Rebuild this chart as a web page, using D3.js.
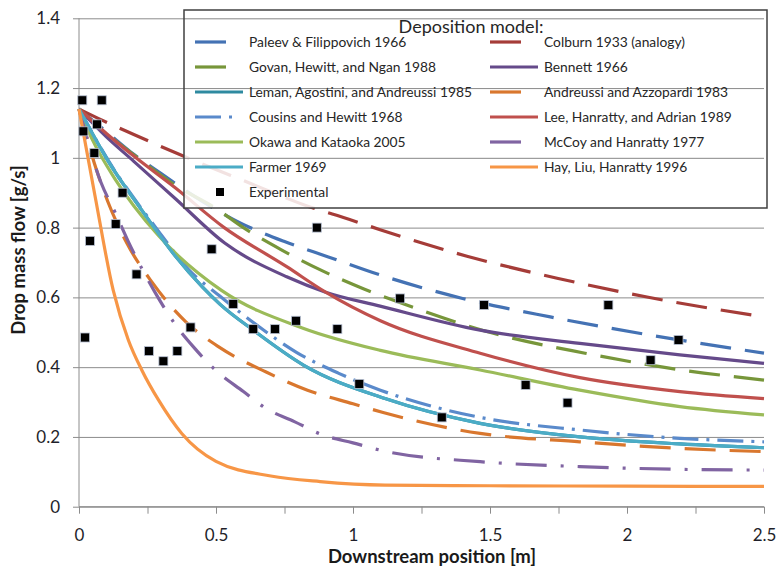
<html>
  <head>
    <style>
      body { margin: 0; background: #fff; }
      text { font-family: Lato, 'Open Sans', sans-serif; }
    </style>
  </head>
  <body>
    <script src="https://d3js.org/d3.v7.min.js"></script>

    <svg id="chart" width="777" height="569"></svg>

    <script>
      // model curves, [position m, drop mass flow g/s]
      const paleev = [[0, 1.14], [0.1, 1.075], [0.2, 1.01], [0.3, 0.955], [0.45, 0.875], [0.59, 0.813], [0.75, 0.76], [0.91, 0.716], [1.1, 0.664], [1.4, 0.597], [1.72, 0.544], [2.06, 0.495], [2.5, 0.44]];
      const colburn = [[0, 1.14], [0.084, 1.108], [0.2, 1.067], [0.387, 1.003], [0.6, 0.935], [0.84, 0.86], [0.985, 0.824], [1.099, 0.794], [1.416, 0.718], [1.745, 0.655], [2.073, 0.601], [2.5, 0.544]];
      const govan = [[0, 1.14], [0.1, 1.07], [0.215, 1.0], [0.35, 0.922], [0.5, 0.855], [0.6, 0.8], [0.737, 0.737], [0.883, 0.678], [1.04, 0.624], [1.196, 0.578], [1.512, 0.497], [1.847, 0.44], [2.181, 0.394], [2.5, 0.363]];
      const bennett = [[0, 1.14], [0.1, 1.06], [0.2, 0.99], [0.35, 0.884], [0.533, 0.755], [0.758, 0.659], [0.9, 0.615], [1.099, 0.575], [1.464, 0.506], [1.828, 0.468], [2.193, 0.435], [2.5, 0.411]];
      const leman = [[0, 1.14], [0.107, 0.99], [0.229, 0.85], [0.35, 0.72], [0.45, 0.63], [0.515, 0.58], [0.636, 0.506], [0.819, 0.406], [1.117, 0.31], [1.464, 0.239], [1.828, 0.2], [2.193, 0.18], [2.5, 0.169]];
      const andreussi = [[0, 1.14], [0.066, 0.96], [0.105, 0.875], [0.175, 0.755], [0.265, 0.645], [0.39, 0.53], [0.51, 0.458], [0.683, 0.386], [0.834, 0.334], [1.0, 0.295], [1.11, 0.27], [1.464, 0.21], [1.828, 0.186], [2.193, 0.167], [2.5, 0.158]];
      const cousins = [[0, 1.14], [0.139, 0.953], [0.2, 0.885], [0.29, 0.79], [0.4, 0.68], [0.515, 0.603], [0.65, 0.52], [0.795, 0.442], [0.946, 0.383], [1.1, 0.334], [1.464, 0.256], [1.828, 0.22], [2.193, 0.196], [2.5, 0.186]];
      const lee = [[0, 1.14], [0.1, 1.07], [0.2, 1.005], [0.35, 0.915], [0.53, 0.8], [0.758, 0.688], [0.9, 0.615], [1.1, 0.533], [1.464, 0.44], [1.828, 0.37], [2.193, 0.33], [2.5, 0.31]];
      const okawa = [[0, 1.14], [0.05, 1.05], [0.131, 0.94], [0.289, 0.778], [0.52, 0.62], [0.82, 0.511], [1.1, 0.448], [1.464, 0.392], [1.828, 0.334], [2.193, 0.287], [2.5, 0.263]];
      const mccoy = [[0, 1.14], [0.08, 0.93], [0.131, 0.845], [0.18, 0.76], [0.277, 0.615], [0.348, 0.526], [0.42, 0.456], [0.5, 0.39], [0.6, 0.33], [0.682, 0.282], [0.786, 0.244], [0.892, 0.205], [1.0, 0.183], [1.11, 0.16], [1.464, 0.129], [1.828, 0.115], [2.193, 0.107], [2.5, 0.105]];
      const farmer = [[0, 1.14], [0.107, 0.99], [0.229, 0.85], [0.35, 0.72], [0.45, 0.63], [0.515, 0.58], [0.636, 0.506], [0.819, 0.406], [1.117, 0.31], [1.464, 0.239], [1.828, 0.2], [2.193, 0.18], [2.5, 0.169]];
      const hay = [[0, 1.14], [0.058, 0.893], [0.125, 0.62], [0.18, 0.478], [0.229, 0.392], [0.29, 0.306], [0.375, 0.21], [0.5, 0.13], [0.7, 0.088], [0.88, 0.072], [1.117, 0.062], [1.5, 0.06], [2.0, 0.059], [2.5, 0.058]];

      const experimental = [
        [0.012, 1.165], [0.083, 1.165], [0.016, 1.076], [0.066, 1.096], [0.056, 1.014],
        [0.159, 0.9], [0.134, 0.81], [0.04, 0.762], [0.21, 0.666], [0.484, 0.738],
        [0.022, 0.485], [0.255, 0.446], [0.308, 0.417], [0.359, 0.446], [0.407, 0.514],
        [0.563, 0.581], [0.636, 0.509], [0.715, 0.509], [0.792, 0.533], [0.868, 0.8],
        [0.943, 0.509], [1.023, 0.352], [1.172, 0.597], [1.324, 0.256], [1.478, 0.578],
        [1.63, 0.349], [1.783, 0.298], [1.932, 0.578], [2.086, 0.42], [2.188, 0.478]
      ];

      const seriesNames = [
        'Paleev & Filippovich 1966', 'Colburn 1933 (analogy)',
        'Govan, Hewitt, and Ngan 1988', 'Bennett 1966',
        'Leman, Agostini, and Andreussi 1985', 'Andreussi and Azzopardi 1983',
        'Cousins and Hewitt 1968', 'Lee, Hanratty, and Adrian 1989',
        'Okawa and Kataoka 2005', 'McCoy and Hanratty 1977',
        'Farmer 1969', 'Hay, Liu, Hanratty 1996'
      ];
      const seriesData = [paleev, colburn, govan, bennett, leman, andreussi, cousins, lee, okawa, mccoy, farmer, hay];

      const xTicks = [0, 0.25, 0.5, 0.75, 1, 1.25, 1.5, 1.75, 2, 2.25, 2.5];
      const yTicks = [0, 0.2, 0.4, 0.6, 0.8, 1, 1.2, 1.4];

      // styles
      const longDash = '31,14';
      const colors = ['#4472b4', '#a53c38', '#77963a', '#654a8a', '#2e8aa0', '#d9772e',
                      '#5a8acb', '#c0504d', '#9bbb59', '#8064a2', '#4bacc6', '#f79646'];
      const dashes = [longDash, longDash, longDash, null, null, longDash,
                      '26,8,3,8', null, null, '31,14,3,14', null, null];
      // legend sample shows one dash (and the dot for the short dash-dot)
      const sampleLen = (i) => !dashes[i] ? 48 : dashes[i] === '26,8,3,8' ? 37 : 31;

      const svg = d3.select('#chart');
      const pLeft = 79, pRight = 764, pTop = 18.3, pBottom = 506.7;

      const x = d3.scaleLinear().domain([0, 2.5]).range([pLeft, pRight]);
      const y = d3.scaleLinear().domain([0, 1.4]).range([pBottom, pTop]);

      // gridlines
      const grid = (g) => g.attr('transform', `translate(${pLeft},0)`)
        .call(d3.axisLeft(y).tickValues(yTicks).tickSize(-(pRight - pLeft)).tickFormat(''))
        .call((g) => g.select('.domain').remove())
        .call((g) => g.selectAll('line').attr('stroke', '#8c8c8c').attr('stroke-width', 1));
      svg.append('g').call(grid);

      // axes
      const yAxis = svg.append('g')
        .attr('transform', `translate(${pLeft},0)`)
        .call(d3.axisLeft(y).tickValues(yTicks).tickSize(6).tickPadding(13)
          .tickFormat((d) => String(+d.toFixed(1))));
      yAxis.select('.domain').attr('stroke', '#8c8c8c').attr('d', `M0,${pBottom}V${pTop}`);
      yAxis.selectAll('line').attr('stroke', '#8c8c8c');
      yAxis.selectAll('text').attr('font-size', 17).attr('fill', '#1f1f2a')
        .attr('font-family', 'Lato, sans-serif');

      const xAxis = svg.append('g')
        .attr('transform', `translate(0,${pBottom})`)
        .call(d3.axisBottom(x).tickValues(xTicks).tickSize(7).tickPadding(15)
          .tickFormat((d) => (d * 2) % 1 === 0 ? String(d) : ''));
      xAxis.select('.domain').attr('stroke', '#8c8c8c').attr('d', `M${pLeft},0H${pRight}`);
      xAxis.selectAll('line').attr('stroke', '#8c8c8c');
      xAxis.selectAll('text').attr('font-size', 17).attr('fill', '#1f1f2a')
        .attr('font-family', 'Lato, sans-serif');

      // curves
      const line = d3.line()
        .x((d) => x(d[0]))
        .y((d) => y(d[1]))
        .curve(d3.curveMonotoneX);

      svg.append('g')
        .selectAll('path')
        .data(seriesData)
        .enter()
        .append('path')
        .attr('d', line)
        .attr('fill', 'none')
        .attr('stroke', (_, i) => colors[i])
        .attr('stroke-width', 3.2)
        .attr('stroke-dasharray', (_, i) => dashes[i]);

      // experimental points
      svg.append('g')
        .selectAll('rect')
        .data(experimental)
        .enter()
        .append('rect')
        .attr('x', (d) => x(d[0]) - 4.5)
        .attr('y', (d) => y(d[1]) - 4.5)
        .attr('width', 9)
        .attr('height', 9)
        .attr('fill', '#000')
        .attr('stroke', '#b9c2d4')
        .attr('stroke-width', 0.8);

      // legend
      const lx = 184, ly = 10, lw = 583, lh = 198;
      svg.append('rect')
        .attr('x', lx).attr('y', ly).attr('width', lw).attr('height', lh)
        .attr('fill', '#fff').attr('fill-opacity', 0.85);

      svg.append('clipPath').attr('id', 'legclip')
        .append('rect').attr('x', lx).attr('y', ly).attr('width', lw).attr('height', lh);
      svg.append('g').attr('clip-path', 'url(#legclip)')
        .append('g').call(grid);

      svg.append('rect')
        .attr('x', lx).attr('y', ly).attr('width', lw).attr('height', lh)
        .attr('fill', 'none').attr('stroke', '#404040').attr('stroke-width', 1.5);

      svg.append('text')
        .attr('x', 471).attr('y', 33)
        .attr('text-anchor', 'middle')
        .attr('font-size', 18)
        .attr('fill', '#262626')
        .text('Deposition model:');

      const legend = svg.append('g');
      const colX = [195, 490];
      const rowY = (i) => 42 + i * 25;

      const items = legend.selectAll('g')
        .data(seriesNames)
        .enter()
        .append('g')
        .attr('transform', (_, i) => `translate(${colX[i % 2]},${rowY(Math.floor(i / 2))})`);

      items.append('line')
        .attr('x1', 0).attr('x2', (_, i) => sampleLen(i))
        .attr('stroke', (_, i) => colors[i])
        .attr('stroke-width', 3.2)
        .attr('stroke-dasharray', (_, i) => dashes[i]);

      items.append('text')
        .attr('x', 54).attr('y', 5)
        .attr('font-size', 13.8)
        .attr('fill', '#262626')
        .text((d) => d);

      const exp = legend.append('g').attr('transform', `translate(${colX[0]},${rowY(6)})`);
      exp.append('rect').attr('x', 21).attr('y', -4).attr('width', 8).attr('height', 8).attr('fill', '#000');
      exp.append('text').attr('x', 54).attr('y', 5).attr('font-size', 13.8).attr('fill', '#262626')
        .text('Experimental');

      // axis titles
      svg.append('text')
        .attr('x', 432).attr('y', 563)
        .attr('text-anchor', 'middle')
        .attr('font-size', 18.5)
        .attr('font-weight', 'bold')
        .attr('fill', '#1a1a1a')
        .text('Downstream position [m]');

      svg.append('text')
        .attr('transform', 'translate(25,250) rotate(-90)')
        .attr('text-anchor', 'middle')
        .attr('font-size', 18.5)
        .attr('font-weight', 'bold')
        .attr('fill', '#1a1a1a')
        .text('Drop mass flow [g/s]');
    </script>
  </body>
</html>
